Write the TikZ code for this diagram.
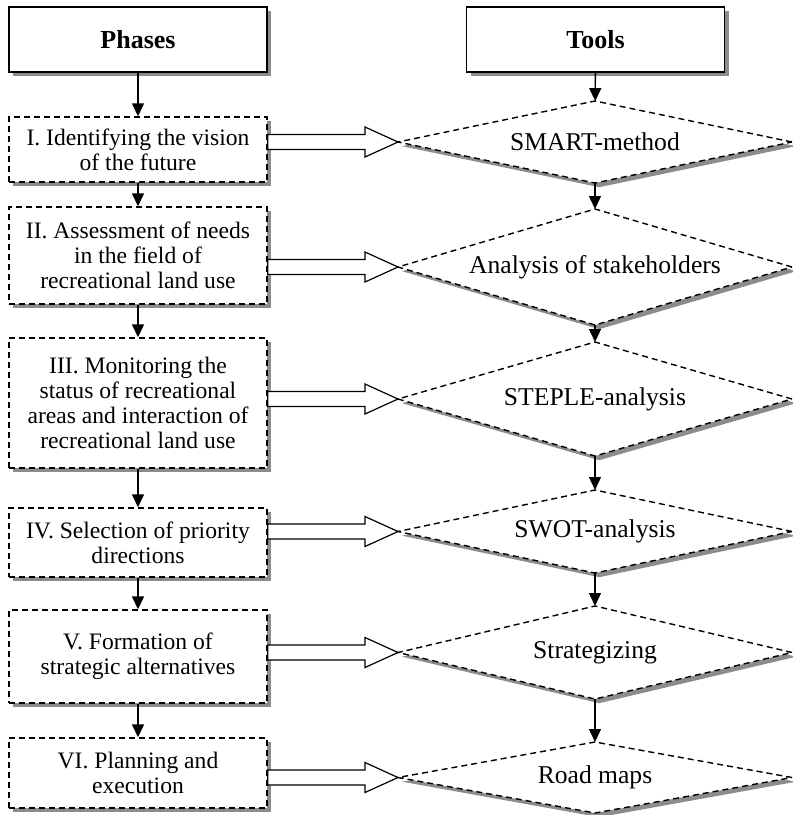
\documentclass[tikz,border=0pt]{standalone}
\usepackage{fontspec}
\setmainfont{Liberation Serif}
\usetikzlibrary{shapes.geometric,shadows,calc,arrows.meta}

\begin{document}
\begin{tikzpicture}[x=0.5pt,y=-0.5pt,line width=0.7pt,
        font=\fontsize{11.8pt}{12.5pt}\selectfont,
        grayshadow/.style={drop shadow={shadow xshift=2.1pt,shadow yshift=-2.1pt,fill=black!45,opacity=1}},
        dashy/.style={dash pattern=on 3pt off 2pt}]
                \useasboundingbox (0,0) rectangle (793,815);
                \begin{scope}[every node/.style={rectangle,draw=black,fill=white,grayshadow,
                        minimum width=129pt,minimum height=32.5pt,inner sep=0pt,
                        font=\bfseries\fontsize{13pt}{14pt}\selectfont}]
                    \node (P) at (138,39.5) {Phases};
                    \node (T) at (595.5,39.5) {Tools};
                \end{scope}
                \begin{scope}[every node/.style={rectangle,draw=black,fill=white,grayshadow,dashy,
                        minimum width=129pt,inner sep=0pt,align=center}]
                    \node[minimum height=32.5pt] (P1) at (138,149.5) {I. Identifying the vision\\of the future};
                    \node[minimum height=48.5pt] (P2) at (138,255.5) {II. Assessment of needs\\in the field of\\recreational land use};
                    \node[minimum height=65pt] (P3) at (138,403) {III. Monitoring the\\status of recreational\\areas and interaction of\\recreational land use};
                    \node[minimum height=34.5pt] (P4) at (138,542.5) {IV. Selection of priority\\directions};
                    \node[minimum height=46.5pt] (P5) at (138,656.5) {V. Formation of\\strategic alternatives};
                    \node[minimum height=35pt] (P6) at (138,773) {VI. Planning and\\execution};
                \end{scope}
                \begin{scope}[every node/.style={diamond,aspect=4,draw=black,fill=white,grayshadow,dashy,
                        minimum width=197pt,inner sep=0pt,outer sep=0pt,
                        font=\fontsize{12.8pt}{13.5pt}\selectfont}]
                    \node[minimum height=41pt] (T1) at (595,142) {SMART-method};
                    \node[minimum height=58pt] (T2) at (595,267) {Analysis of stakeholders};
                    \node[minimum height=57pt] (T3) at (595,399) {STEPLE-analysis};
                    \node[minimum height=41.5pt] (T4) at (595,531.5) {SWOT-analysis};
                    \node[minimum height=46.5pt] (T5) at (595,652.5) {Strategizing};
                    \node[minimum height=35.5pt] (T6) at (595,777.5) {Road maps};
                \end{scope}
                \begin{scope}[every edge/.style={draw=black,-{Triangle[length=6.5pt,width=6pt]}}]
                    \draw (P) edge (P1);
                    \draw (P1) edge (P2);
                    \draw (P2) edge (P3);
                    \draw (P3) edge (P4);
                    \draw (P4) edge (P5);
                    \draw (P5) edge (P6);
                    \draw (T) edge (T1);
                    \draw (T1) edge (T2);
                    \draw (T2) edge (T3);
                    \draw (T3) edge (T4);
                    \draw (T4) edge (T5);
                    \draw (T5) edge (T6);
                \end{scope}
                \begin{scope}[every edge/.style={draw=black,fill=white,line width=0.6pt,
                        to path={let \p1=(\tikztostart), \p2=(\tikztotarget) in
                            (\x1,\y2+3.75pt) -- (\x2-16.5pt,\y2+3.75pt) -- (\x2-16.5pt,\y2+7.5pt)
                            -- (\x2,\y2) -- (\x2-16.5pt,\y2-7.5pt) -- (\x2-16.5pt,\y2-3.75pt)
                            -- (\x1,\y2-3.75pt) -- cycle}}]
                    \draw (P1.east) edge (T1.west);
                    \draw (P2.east) edge (T2.west);
                    \draw (P3.east) edge (T3.west);
                    \draw (P4.east) edge (T4.west);
                    \draw (P5.east) edge (T5.west);
                    \draw (P6.east) edge (T6.west);
                \end{scope}
            \end{tikzpicture}
\end{document}
